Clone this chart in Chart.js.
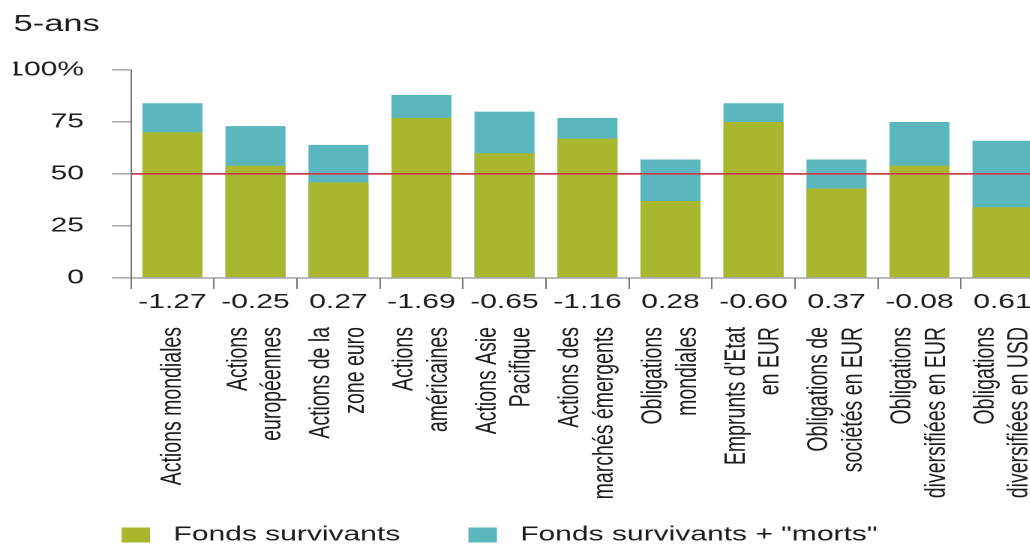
<!DOCTYPE html>
<html>
<head>
<meta charset="utf-8">
<script src="https://cdn.jsdelivr.net/npm/chart.js@4/dist/chart.umd.min.js"></script>
<style>
  html, body { margin: 0; padding: 0; overflow: hidden; background: #fff; }
  #wrap { width: 700px; height: 546px; transform: scaleX(1.5); transform-origin: 0 0; }
  #c { width: 700px; height: 546px; display: block; }
</style>
</head>
<body>
<div id="wrap"><canvas id="c" width="700" height="546"></canvas></div>
<script>
// ---- data ----
const categories = [
  ["Actions mondiales"],
  ["Actions", "européennes"],
  ["Actions de la", "zone euro"],
  ["Actions", "américaines"],
  ["Actions Asie", "Pacifique"],
  ["Actions des", "marchés émergents"],
  ["Obligations", "mondiales"],
  ["Emprunts d'Etat", "en EUR"],
  ["Obligations de", "sociétés en EUR"],
  ["Obligations", "diversifiées en EUR"],
  ["Obligations", "diversifiées en USD"]
];
const perfLabels = ["-1.27", "-0.25", "0.27", "-1.69", "-0.65", "-1.16", "0.28", "-0.60", "0.37", "-0.08", "0.61"];
const survivants = [70, 54, 46, 77, 60, 67, 37, 75, 43, 54, 34];
const survivantsEtMorts = [84, 73, 64, 88, 80, 77, 57, 84, 57, 75, 66];
const yTicks = [0, 25, 50, 75, 100];
const seriesNames = ['Fonds survivants', 'Fonds survivants + "morts"'];
const panelTitle = '5-ans';

// ---- style ----
const FONT = "'Liberation Sans', Arial, Helvetica, sans-serif";
const GREEN = '#A9B72E';
const TEAL = '#5BB7BE';
const RED = '#C8414F';
const AXIS = '#777777';
const TEXT = '#1c1c1c';
const CAT_SIZE = 19.5;
const CAT_LH = 1.17;
const CAT_OFFSET = -(CAT_SIZE * CAT_LH) / 2;

const noSidePadding = (s) => { s.paddingLeft = 0; s.paddingRight = 0; };

new Chart(document.getElementById('c'), {
  type: 'bar',
  data: {
    labels: perfLabels,
    datasets: [
      { label: seriesNames[0], data: survivants, backgroundColor: GREEN, borderWidth: 0,
        grouped: false, barPercentage: 0.723, categoryPercentage: 1, xAxisID: 'x' },
      { label: seriesNames[1], data: survivantsEtMorts, backgroundColor: TEAL, borderWidth: 0,
        grouped: false, barPercentage: 0.723, categoryPercentage: 1, xAxisID: 'x' }
    ]
  },
  options: {
    responsive: false,
    maintainAspectRatio: false,
    animation: false,
    devicePixelRatio: 2,
    layout: { padding: { left: 9, right: 4, top: 0, bottom: -9 } },
    plugins: {
      tooltip: { enabled: false },
      title: {
        display: true, text: panelTitle, align: 'start', color: TEXT,
        font: { family: FONT, size: 23, weight: 'normal', lineHeight: 1.2 },
        padding: { top: 11, bottom: 31.4 }
      },
      legend: {
        position: 'bottom',
        labels: {
          color: TEXT,
          font: { family: FONT, size: 20 },
          boxWidth: 19, boxHeight: 15, padding: 1,
          generateLabels: (chart) => {
            const items = Chart.defaults.plugins.legend.labels.generateLabels(chart);
            items.forEach((it, i) => {
              it.text = ' ' + it.text + (i === 0 ? ' '.repeat(8) : ' '.repeat(7));
              it.lineWidth = 0;
            });
            return items;
          }
        }
      }
    },
    scales: {
      x: {
        type: 'category',
        position: 'bottom',
        offset: true,
        grid: { offset: true, drawOnChartArea: false, color: AXIS, tickLength: 11, lineWidth: 1 },
        border: { display: true, color: AXIS, width: 1 },
        ticks: { color: TEXT, font: { family: FONT, size: 20, lineHeight: 1.2 }, padding: 1.5,
                 maxRotation: 0, minRotation: 0, autoSkip: false },
        afterFit: (s) => { s.height = 38; noSidePadding(s); }
      },
      x2: {
        type: 'category',
        position: 'bottom',
        labels: categories,
        offset: true,
        grid: { display: false, drawTicks: false, drawOnChartArea: false },
        border: { display: false },
        ticks: {
          color: TEXT,
          // single-line labels: empty lead line with a line height that re-centres the text on the tick
          font: (c) => {
            const lab = categories[c.index];
            const single = lab && lab.length === 1;
            return { family: FONT, size: CAT_SIZE,
                     lineHeight: single ? (-CAT_OFFSET / CAT_SIZE) : CAT_LH };
          },
          callback: (v, i) => categories[i].length === 1 ? ['', categories[i][0]] : categories[i],
          minRotation: 90, maxRotation: 90, autoSkip: false, padding: 11, labelOffset: CAT_OFFSET
        },
        afterFit: (s) => { s.height = 208; noSidePadding(s); }
      },
      y: {
        min: 0, max: 100,
        afterBuildTicks: (s) => { s.ticks = yTicks.map(v => ({ value: v })); },
        grid: {
          z: 1,
          drawOnChartArea: true,
          color: (c) => (c.tick && c.tick.value === 50) ? RED : 'rgba(0,0,0,0)',
          lineWidth: 1.7,
          tickColor: AXIS, tickWidth: 1, tickLength: 12.7
        },
        border: { display: true, color: AXIS, width: 1, z: 2 },
        ticks: { color: TEXT, font: { family: FONT, size: 20 }, padding: 18.6,
                 callback: (v) => v === 100 ? '100%' : String(v) },
        afterFit: (s) => { s.width = 78.3; }
      }
    }
  }
});
</script>
</body>
</html>
